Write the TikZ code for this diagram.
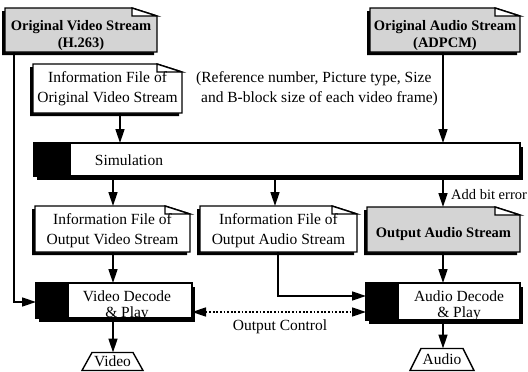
\documentclass[tikz,border=0pt]{standalone}
\usepackage{fontspec}
\setmainfont{Liberation Serif}
\usetikzlibrary{arrows.meta,backgrounds,calc}
\tikzset{
  lbl/.style={font=\fontsize{15.5}{20}\selectfont, align=center, inner sep=0pt},
  blbl/.style={font=\fontsize{14.5}{17}\selectfont\bfseries, align=center, inner sep=0pt},
  plbl/.style={font=\fontsize{15.5}{16}\selectfont, align=center, inner sep=0pt},
  boxnode/.style={inner sep=0pt, outer sep=0pt},
  conn/.style={line width=1.5pt, -{Triangle[length=14pt,width=9pt]}},
  dotconn/.style={line width=1.5pt, dash pattern=on 1.8pt off 1.8pt, {Triangle[length=14pt,width=9pt]}-{Triangle[length=14pt,width=9pt]}},
  stipple/.style={fill=black!17},
}
% name, left, top, right, bottom, fill, text style, text, text centre y
\newcommand\docbox[9]{%
  \node[boxnode, minimum width={(#4-#2)*1pt}, minimum height={(#5-#3)*1pt}] (#1) at ({(#2+#4)/2},{(#3+#5)/2}) {};
  \node[#7] (#1label) at ({(#2+#4)/2},#9) {#8};
  \begin{pgfonlayer}{background}
    \fill[black] ([shift={(-3pt,-3pt)}]#1.north west) -- ([shift={(-28pt,-3pt)}]#1.north east) -- ([shift={(-3pt,-11pt)}]#1.north east) -- ([shift={(-3pt,-3pt)}]#1.south east) -- ([shift={(-3pt,-3pt)}]#1.south west) -- cycle;
    \filldraw[line width=1.4pt, #6] (#1.north west) -- ([xshift=-25pt]#1.north east) -- ([yshift=-8pt]#1.north east) -- (#1.south east) -- (#1.south west) -- cycle;
    \filldraw[line width=1.4pt, fill=white] ([xshift=-25pt]#1.north east) -- ([shift={(-25pt,-8pt)}]#1.north east) -- ([yshift=-8pt]#1.north east) -- cycle;
  \end{pgfonlayer}
}
% name, left, top, right, bottom, split x
\newcommand\procbox[6]{%
  \node[boxnode, minimum width={(#4-#2)*1pt}, minimum height={(#5-#3)*1pt}] (#1) at ({(#2+#4)/2},{(#3+#5)/2}) {};
  \begin{pgfonlayer}{background}
    \fill[black] ([shift={(3pt,-4pt)}]#1.north west) rectangle ([shift={(3pt,-4pt)}]#1.south east);
    \fill[black] (#1.north west) rectangle (#6,#5);
    \filldraw[line width=1.4pt, fill=white] (#6,#3) rectangle (#1.north east |- #1.south east);
    \draw[line width=1.4pt] (#1.north west) rectangle (#1.south east);
  \end{pgfonlayer}
}
\begin{document}
\begin{tikzpicture}[x=1pt, y=-1pt]
\useasboundingbox (0,0) rectangle (528,372);

% top row
\docbox{ov}{5}{8}{157}{52}{stipple}{blbl}{Original Video Stream\\(H.263)}{36}
\docbox{oa}{370}{8}{520}{52}{stipple}{blbl}{Original Audio Stream\\(ADPCM)}{36}
\docbox{iov}{33}{64}{182}{113}{fill=white}{lbl}{Information File of\\Original Video Stream}{89}
\node[plbl, align=left, font=\fontsize{15.5}{20}\selectfont] (note) at (317,89) {(Reference number, Picture type, Size\\\hspace*{5pt}and B-block size of each video frame)};

% simulation
\procbox{sim}{34}{143}{520}{176}{70}
\node[plbl] (simlabel) at (129,160) {Simulation};

% third row
\docbox{iovo}{35}{206}{190}{252}{fill=white}{lbl}{Information File of\\Output Video Stream}{231}
\docbox{ioao}{200}{206}{357}{252}{fill=white}{lbl}{Information File of\\Output Audio Stream}{231}
\docbox{outa}{367}{207}{520}{252}{stipple}{blbl}{Output Audio Stream}{234}

% decode boxes
\procbox{vdec}{36}{283}{192}{318}{68}
\node[plbl] (vdeclabel) at (127,306) {Video Decode\\\& Play};
\procbox{adec}{366}{283}{520}{320}{398}
\node[plbl] (adeclabel) at (459,306) {Audio Decode\\\& Play};

% outputs
\node[boxnode, plbl, minimum width=61pt, minimum height=18pt] (vid) at (112.5,361.5) {Video};
\draw[line width=1.4pt] (vid.south west) -- (vid.south east) -- ([xshift=-10pt]vid.north east) -- ([xshift=10pt]vid.north west) -- cycle;
\node[boxnode, plbl, minimum width=64pt, minimum height=22pt] (aud) at (442,359.5) {Audio};
\draw[line width=1.4pt] (aud.south west) -- (aud.south east) -- ([xshift=-11pt]aud.north east) -- ([xshift=11pt]aud.north west) -- cycle;

% column coordinates
\coordinate (xA) at (120,0);
\coordinate (xV) at (113,0);
\coordinate (xM) at (275,0);
\coordinate (xR) at (443,0);
\coordinate (l1) at (14,302);
\coordinate (l2) at (278,296);
\coordinate (l3) at (0,312);

% connectors
\draw[conn] (iov.south -| xA) -- (sim.north -| xA);
\draw[conn] (oa.south -| xR) -- (sim.north -| xR);
\draw[conn] (sim.south -| xV) -- (iovo.north -| xV);
\draw[conn] (sim.south -| xM) -- (ioao.north -| xM);
\draw[conn] (sim.south -| xR) -- (outa.north -| xR);
\node[plbl, anchor=west, font=\fontsize{14.5}{16}\selectfont] (abe) at (451,195) {Add bit error};
\draw[conn] (ov.south -| l1) -- (l1) -- (vdec.west |- l1);
\draw[conn] (iovo.south -| xV) -- (vdec.north -| xV);
\draw[conn] (ioao.south -| l2) -- (l2) -- (adec.west |- l2);
\draw[conn] (outa.south -| xR) -- (adec.north -| xR);
\draw[dotconn] (vdec.east |- l3) -- (adec.west |- l3);
\node[plbl] (oc) at (280,327) {Output Control};
\draw[conn] (vdec.south -| xV) -- (vid.north -| xV);
\draw[conn] (adec.south -| xR) -- (aud.north -| xR);
\end{tikzpicture}
\end{document}
